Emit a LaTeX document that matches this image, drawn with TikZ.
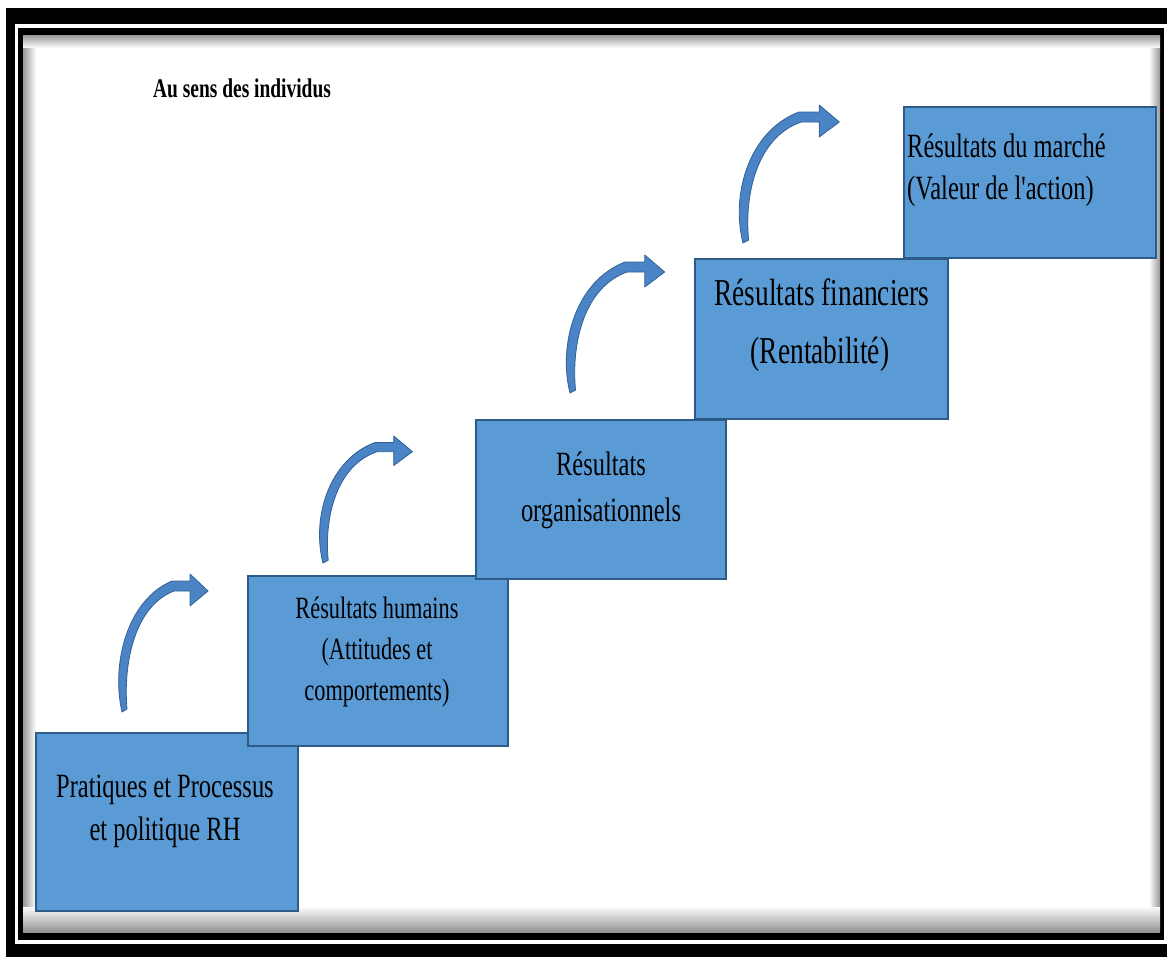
\documentclass[tikz,border=0pt]{standalone}
\usepackage{fontspec}
\newfontfamily\cond[FakeStretch=0.72]{Liberation Serif}
\definecolor{boxblue}{HTML}{5B9BD5}
\definecolor{boxedge}{HTML}{2E5A88}
\definecolor{arcblue}{HTML}{4A84C4}
\definecolor{arcedge}{HTML}{2F6099}
\tikzset{
  stepbox/.style={draw=boxedge, fill=boxblue, line width=2pt, inner sep=0pt, anchor=north west},
  lbl/.style={inner sep=0pt, anchor=base, text=black},
  bluearc/.pic={
    \fill[arcblue, draw=arcedge, line width=0.8pt, line join=round]
      (0,0) .. controls (-11,-48) and (5,-112) .. (50,-131)
      -- (68,-131) -- (68,-138) -- (86,-121) -- (68,-106) -- (68,-121) -- (52,-121)
      .. controls (13,-106) and (1,-50) .. (5,-3) -- cycle;
  }
}
\begin{document}
\begin{tikzpicture}[x=1pt,y=-1pt]
\useasboundingbox (0,0) rectangle (1167,956);
% frame
\fill[white] (0,0) rectangle (1167,956);
\fill[black] (6,8) rectangle (1200,1000);
\fill[white] (15,24) rectangle (1200,944);
\fill[black] (18,28) rectangle (1164,940);
\fill[white] (23,35) rectangle (1160,932);
\shade[top color=gray!80, bottom color=white] (23,35) rectangle (1160,48);
\shade[top color=white, bottom color=gray!85] (23,906) rectangle (1160,932);
\shade[left color=gray!80, right color=white] (23,48) rectangle (36,906);
\shade[left color=white, right color=gray!80] (1149,48) rectangle (1160,906);

% title
\node[inner sep=0pt, anchor=base west, font=\fontsize{27}{30}\cond\bfseries] (title) at (153,97) {Au sens des individus};

% boxes
\node[stepbox, minimum width=262pt, minimum height=178pt] (b1) at (35,732) {};
\node[stepbox, minimum width=260pt, minimum height=170pt] (b2) at (247,575) {};
\node[stepbox, minimum width=250pt, minimum height=159pt] (b3) at (475,419) {};
\node[stepbox, minimum width=253pt, minimum height=160pt] (b4) at (694,258) {};
\node[stepbox, minimum width=252pt, minimum height=151pt] (b5) at (903,106) {};

% texts
\begin{scope}[every node/.append style={lbl}]
\node[font=\fontsize{34}{43}\cond] (t1a) at (165,797) {Pratiques et Processus};
\node[font=\fontsize{34}{43}\cond] (t1b) at (165,840) {et politique RH};
\node[font=\fontsize{31}{40}\cond] (t2a) at (377,618) {Résultats humains};
\node[font=\fontsize{31}{40}\cond] (t2b) at (377,659) {(Attitudes et};
\node[font=\fontsize{31}{40}\cond] (t2c) at (377,700) {comportements)};
\node[font=\fontsize{34}{43}\cond] (t3a) at (601,475) {Résultats};
\node[font=\fontsize{34}{43}\cond] (t3b) at (601,521) {organisationnels};
\node[font=\fontsize{38}{50}\cond] (t4a) at (822,305) {Résultats financiers};
\node[font=\fontsize{38}{50}\cond] (t4b) at (820,363) {(Rentabilité)};
\node[font=\fontsize{34}{43}\cond, anchor=base west] (t5a) at (907,157) {Résultats du marché};
\node[font=\fontsize{34}{43}\cond, anchor=base west] (t5b) at (907,199) {(Valeur de l'action)};
\end{scope}

% curved arrows
\coordinate (a1) at (122,712);
\coordinate (a2) at (323,563);
\coordinate (a3) at (570,393);
\coordinate (a4) at (743,243);
\pic at (a1) {bluearc};
\pic[xscale=1.04, yscale=0.92] at (a2) {bluearc};
\pic[xscale=1.1] at (a3) {bluearc};
\pic[xscale=1.12] at (a4) {bluearc};
\end{tikzpicture}
\end{document}
